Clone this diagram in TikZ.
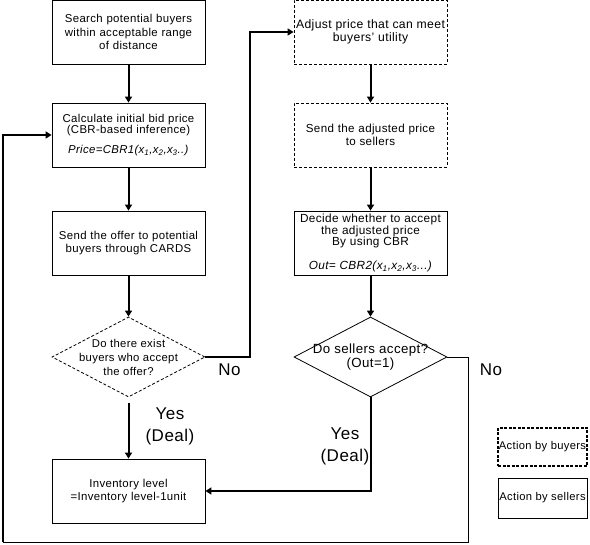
\documentclass[tikz,border=0pt]{standalone}
\usepackage{fontspec}
\setmainfont{Liberation Sans}[LetterSpace=3]
\usetikzlibrary{shapes.geometric,arrows.meta,calc}
\begin{document}
\begin{tikzpicture}[x=1pt,y=-1pt,
  box/.style={draw,line width=0.8pt,text width=153pt,minimum height=64pt,inner sep=0pt,align=center,font=\fontsize{11.4}{13.5}\selectfont},
  dbox/.style={box,dash pattern=on 3pt off 2pt},
  dia/.style={draw,shape=diamond,line width=0.8pt,minimum width=153pt,minimum height=80pt,inner sep=0pt},
  dtext/.style={align=center,inner sep=0pt,font=\fontsize{11.3}{14}\selectfont},
  thk/.style={line width=2pt},
  thn/.style={line width=0.9pt},
  arr/.style={-{Triangle[length=6pt,width=7pt]}},
  big/.style={align=center,inner sep=0pt,font=\fontsize{17}{22}\selectfont}
]
\useasboundingbox (0,0) rectangle (590,545);
\fill[white] (0,0) rectangle (590,545);

% left column
\node[box] (b1) at (128.5,32) {Search potential buyers\\within acceptable range\\of distance};
\node[box] (b2) at (128.5,135) {\fontsize{11.4}{11}\selectfont Calculate initial bid price\\(CBR-based inference)\\[7pt]\textit{Price=CBR1(x\textsubscript{1},x\textsubscript{2},x\textsubscript{3}..)}};
\node[box] (b3) at (128.5,243) {Send the offer to potential\\buyers through CARDS};
\node[dia,dash pattern=on 3pt off 2pt] (d1) at (128.5,357) {};
\node[dtext] (d1t) at (d1) {Do there exist\\buyers who accept\\the offer?};
\node[box] (inv) at (128.5,491) {Inventory level\\=Inventory level-1unit};

% right column
\node[dbox] (a1) at (370.5,32) {\fontsize{12.2}{13.5}\selectfont Adjust price that can meet\\buyers' utility};
\node[dbox] (a2) at (370.5,135) {\fontsize{11.6}{15}\selectfont Send the adjusted price\\to sellers};
\node[box] (dec) at (370.5,243) {\fontsize{11.8}{11.5}\selectfont Decide whether to accept\\the adjusted price\\By using CBR\\[10pt]\textit{Out= CBR2(x\textsubscript{1},x\textsubscript{2},x\textsubscript{3}...)}};
\node[dia] (d2) at (370.5,357) {};
\node[dtext,font=\fontsize{13.3}{14}\selectfont] (d2t) at (d2) {Do sellers accept?\\(Out=1)};

% legend
\node[draw,line width=1.8pt,dash pattern=on 3pt off 1.5pt,minimum width=89pt,minimum height=38pt,inner sep=0pt,font=\fontsize{11.2}{12}\selectfont] (lb) at (542.5,447) {Action by buyers};
\node[draw,line width=0.8pt,minimum width=89pt,minimum height=40pt,inner sep=0pt,font=\fontsize{11.2}{12}\selectfont] (ls) at (542.5,498) {Action by sellers};

% connectors
\draw[thk,arr] (b1.south) -- (b2.north);
\draw[thk,arr] (b2.south) -- (b3.north);
\draw[thk,arr] (b3.south) -- (d1.north);
\draw[thk,arr,shorten <=6pt] (d1.south) -- (inv.north);
\coordinate (n1) at (250,357);
\draw[thk,arr] (d1.east) -- (n1) |- (a1.west);
\draw[thk,arr] (a1.south) -- (a2.north);
\draw[thk,arr] (a2.south) -- (dec.north);
\draw[thk,arr] (dec.south) -- (d2.north);
\draw[thk,arr] (d2.south) |- (inv.east);
\coordinate (n2) at (468,357);
\coordinate (n3) at (468,542);
\coordinate (n4) at (3,542);
\draw[thn] (d2.east) -- (n2) -- (n3) -- (n4);
\draw[thk,arr] (n4) |- (b2.west);

% labels
\node[big] (no1) at (229.5,370) {No};
\node[big] (yes1) at (170,426) {Yes\\(Deal)};
\node[big] (yes2) at (345,446) {Yes\\(Deal)};
\node[big] (no2) at (491,370) {No};
\end{tikzpicture}
\end{document}
